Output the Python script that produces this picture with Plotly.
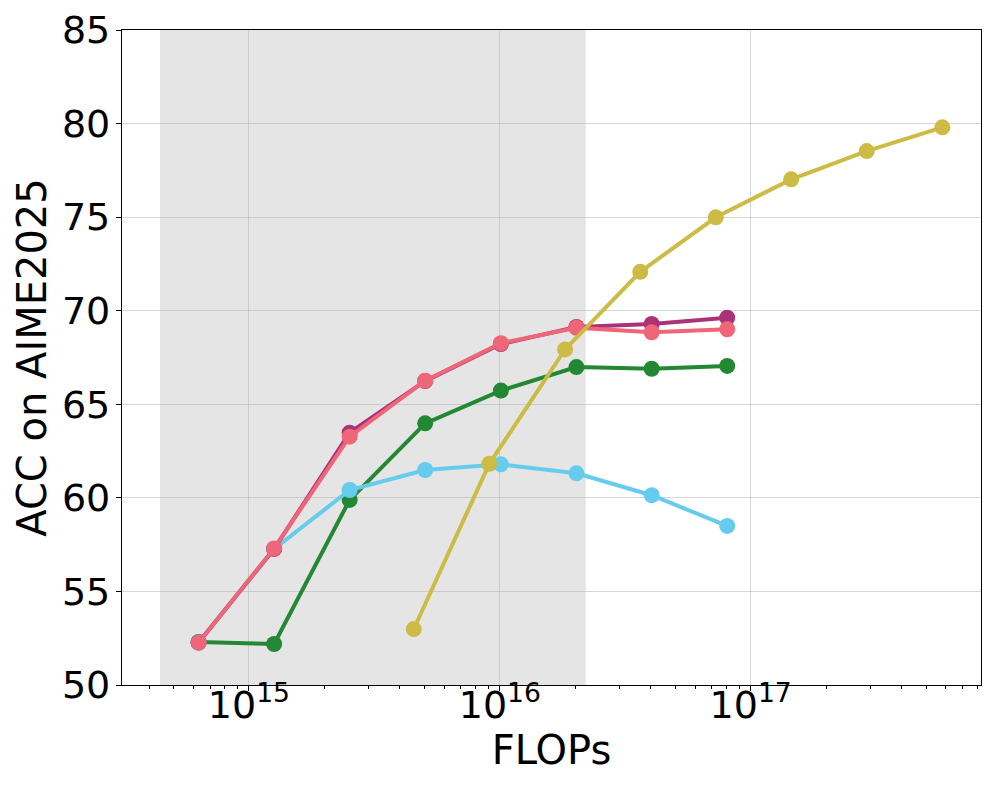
import plotly.graph_objects as go

# ---- data ----
flops_main = [6.3e14, 1.26e15, 2.52e15, 5.04e15, 1.01e16, 2.02e16, 4.03e16, 8.06e16]
flops_yellow = [4.54e15, 9.08e15, 1.82e16, 3.63e16, 7.26e16, 1.45e17, 2.9e17, 5.81e17]

acc_green = [52.30, 52.19, 59.89, 63.98, 65.73, 66.99, 66.90, 67.05]
acc_cyan = [52.27, 57.27, 60.42, 61.49, 61.79, 61.31, 60.14, 58.50]
acc_purple = [52.27, 57.27, 63.48, 66.24, 68.22, 69.13, 69.29, 69.63]
acc_pink = [52.26, 57.30, 63.27, 66.26, 68.26, 69.09, 68.85, 69.01]
acc_yellow = [52.99, 61.82, 67.93, 72.08, 74.99, 77.02, 78.53, 79.80]

shade_range = [4.42e14, 2.2e16]
x_range_log = [14.494, 17.918]
y_range = [50, 85]
y_ticks = [50, 55, 60, 65, 70, 75, 80, 85]
x_major = [1e15, 1e16, 1e17]
x_major_text = ["10<sup>15</sup>", "10<sup>16</sup>", "10<sup>17</sup>"]
x_minor = [m * 10 ** e for e in (14, 15, 16, 17) for m in range(2, 10)]

series = [
    (flops_main, acc_green, "#228833"),
    (flops_main, acc_cyan, "#66CCEE"),
    (flops_main, acc_purple, "#AA3377"),
    (flops_main, acc_pink, "#EE6677"),
    (flops_yellow, acc_yellow, "#CCBB44"),
]

fig = go.Figure()
for xs, ys, c in series:
    fig.add_trace(go.Scatter(
        x=xs, y=ys, mode="lines+markers",
        line=dict(color=c, width=4),
        marker=dict(color=c, size=16),
        showlegend=False,
    ))

fig.add_shape(type="rect", xref="x", yref="paper",
              x0=shade_range[0], x1=shade_range[1], y0=0, y1=1,
              fillcolor="#e5e5e5", line=dict(width=0), layer="below")

font = "DejaVu Sans"
# page body has an 8px margin, so the figure is sized to fit the window
fig.update_layout(
    width=989, height=789,
    margin=dict(l=114, r=16, t=22, b=112),
    plot_bgcolor="white", paper_bgcolor="white",
    font=dict(family=font, color="black"),
)
fig.update_xaxes(
    type="log", range=x_range_log, automargin=False,
    tickmode="array", tickvals=x_major, ticktext=x_major_text,
    tickfont=dict(size=38, family=font), ticks="outside", ticklen=5, tickcolor="black",
    ticklabelstandoff=-19,
    showgrid=True, gridcolor="rgba(176,176,176,0.5)", gridwidth=1,
    minor=dict(tickmode="array", tickvals=x_minor, ticks="outside", ticklen=3,
               tickcolor="black", showgrid=False),
    showline=True, linecolor="black", linewidth=1.2, mirror=True,
    title=dict(text="FLOPs", font=dict(size=40, family=font), standoff=0),
    zeroline=False,
)
fig.update_yaxes(
    range=y_range, automargin=False, tickmode="array", tickvals=y_ticks,
    tickfont=dict(size=38, family=font), ticks="outside", ticklen=5, tickcolor="black",
    ticklabelstandoff=-2,
    showgrid=True, gridcolor="rgba(176,176,176,0.5)", gridwidth=1,
    showline=True, linecolor="black", linewidth=1.2, mirror=True,
    title=dict(text="ACC on AIME2025", font=dict(size=40, family=font), standoff=2),
    zeroline=False,
)

fig.write_html("out.html")
